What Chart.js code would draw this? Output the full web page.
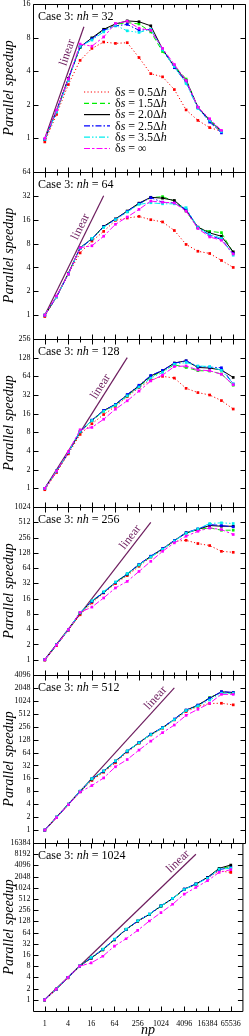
<!DOCTYPE html>
<html><head><meta charset="utf-8">
<script src="https://cdn.jsdelivr.net/npm/chart.js@4.4.1/dist/chart.umd.min.js"></script>
<style>
html,body{margin:0;padding:0;background:#fff;}
#wrap{position:relative;width:249px;height:1036px;overflow:hidden;background:#fff;}
#wrap canvas{position:absolute;left:0;}
</style></head><body><div id="wrap"></div>
<script>
// ---------- data ----------
const npValues = [1,2,4,8,16,32,64,128,256,512,1024,2048,4096,8192,16384,32768,65536];
const xTickLabels = [1,4,16,64,256,1024,4096,16384,65536];
const nhValues = [32,64,128,256,512,1024];
const yTopValues = [16,64,256,1024,4096,16384];
const linearEndNp = [10,32,128,512,2048,8192];
const seriesLabels = ['0.5\u0394','1.5\u0394','2.0\u0394','2.5\u0394','3.5\u0394','\u221e'];

// nh = 32
const nh32_ds05 = [0.93,1.64,3.04,5.0,6.4,7.3,7.1,7.2,5.3,3.8,3.56,2.74,1.8,1.45,1.25,1.16];
const nh32_ds15 = [0.98,1.75,3.4,6.5,7.9,9.4,10.5,10.9,10.6,9.0,6.0,4.5,3.4,1.9,1.45,1.15];
const nh32_ds20 = [0.98,1.78,3.45,6.6,7.95,9.5,10.6,11.3,11.1,10.2,6.3,4.4,3.3,1.9,1.45,1.15];
const nh32_ds25 = [0.98,1.75,3.4,6.6,7.8,9.3,10.2,10.5,9.3,9.5,6.3,4.3,3.2,1.9,1.4,1.12];
const nh32_ds35 = [0.98,1.72,3.3,6.7,7.6,9.0,10.3,9.2,8.9,9.5,6.2,4.4,3.1,1.85,1.45,1.15];
const nh32_dsInf = [1.0,1.8,3.4,7.0,6.7,8.1,10.7,11.2,9.7,9.3,6.4,4.6,3.3,1.9,1.5,1.18];
// nh = 64
const nh64_ds05 = [0.96,1.7,3.3,6.1,8.6,11.4,15.7,16.8,17.6,16.0,15.0,11.7,7.8,6.4,6.0,4.9,4.0];
const nh64_ds15 = [1,1.71,3.36,7.0,9.1,13.0,16.2,20.3,25.5,30.3,31.3,27.5,20.5,12.6,11.4,11.0,6.1];
const nh64_ds20 = [1,1.71,3.36,7.1,9.2,13.2,16.4,20.6,25.9,30.7,29.9,28.0,21.0,12.9,10.9,9.9,6.3];
const nh64_ds25 = [1,1.7,3.3,7.0,9.1,13.0,16.2,20.4,25.5,30.4,26.6,26.0,21.5,12.7,10.2,9.0,6.0];
const nh64_ds35 = [1,1.7,3.3,7.0,9.3,12.8,16.0,20.0,25.0,26.2,25.4,25.4,22.7,12.7,10.5,9.3,5.7];
const nh64_dsInf = [1,1.75,3.3,7.1,7.5,9.9,14.0,17.3,21.6,27.5,26.6,26.0,20.5,12.4,9.7,8.8,5.9];
// nh = 128
const nh128_ds05 = [0.95,1.8,3.6,7.4,11,15.5,21,30,42,56,64,60,41,35,32,26,19];
const nh128_ds15 = [1,1.9,3.8,8.1,12.3,17.5,22,31,44,63,77,98,89,79,78,70,46];
const nh128_ds20 = [1,1.9,3.8,8.2,12.5,18,22.6,32,45,65,79,105,114,89,87,81,61.5];
const nh128_ds25 = [1,1.9,3.8,8.2,12.6,18,22.6,32.5,46,66,80,104,114,92,90,88,48];
const nh128_ds35 = [1,1.9,3.8,8.3,12.4,17.5,22,31,43,60,74,100,107,94,92,80,48.5];
const nh128_dsInf = [1,1.9,3.9,8.8,9.6,13,18.9,25.8,37,54,67,92,94,81,79,69,47];
// nh = 256
const nh256_ds05 = [0.98,1.9,3.8,7.7,13.2,20.7,31.6,45.5,69.5,105,148,215,226,195,178,137,131];
const nh256_ds15 = [1,1.98,3.9,8.3,14,21,33,48,74,107,150,220,316,368,397,357,357];
const nh256_ds20 = [1,1.98,3.9,8.4,14.2,21.3,33.6,49,75,109,153,223,316,368,442,428,428];
const nh256_ds25 = [1,1.98,3.9,8.4,14.2,21.3,33.6,49,76,110,155,225,320,380,462,442,416];
const nh256_ds35 = [1,1.98,3.9,8.5,14.5,22,34,50,74,106,150,220,310,380,484,499,484];
const nh256_dsInf = [1,1.95,3.9,8.6,10.9,16.5,26,35,55,87,137,201,272,340,397,368,294];
// nh = 512
const nh512_ds05 = [0.98,1.95,3.9,7.8,14.3,22.3,37,65.6,105,164,235,368,576,760,890,900,826];
const nh512_ds15 = [1,2,4,8,15.4,23.3,40,68,108,168,240,378,615,800,1225,1600,1540];
const nh512_ds20 = [1,2,4,8,15.6,23.6,40.4,69,109,170,243,381,620,811,1180,1660,1600];
const nh512_ds25 = [1,2,4,8,15.6,23.6,40.4,69,110,172,245,385,625,815,1180,1680,1600];
const nh512_ds35 = [1,2,4,8.1,15.8,24,41,70,108,168,240,375,610,780,1070,1540,1540];
const nh512_dsInf = [1,1.95,3.9,7.7,10.9,16.4,29.8,44,73,118,186,280,470,650,900,1450,1450];
// nh = 1024
const nh1024_ds05 = [0.98,1.9,3.9,7.9,13,22,41,77,128,196,330,520,930,1280,1900,2900,2660];
const nh1024_ds15 = [1,1.94,4,8,13.2,22,41,77,130,197,330,520,930,1280,1950,3300,3850];
const nh1024_ds20 = [1,1.94,4,8,13.4,22.5,42,78,131,198,333,527,942,1290,1950,3420,4200];
const nh1024_ds25 = [1,1.94,4,8,13.4,22.5,42,78,131,200,335,530,950,1300,1900,3150,3600];
const nh1024_ds35 = [1,1.94,4,8,13.8,23,43,79,133,200,333,530,920,1280,1850,3270,3400];
const nh1024_dsInf = [1,1.94,4,8,9.8,14.8,27.7,43.7,73.5,131,220,370,690,1045,1585,2660,3140];

const panelSeries = [
  [nh32_ds05,nh32_ds15,nh32_ds20,nh32_ds25,nh32_ds35,nh32_dsInf],
  [nh64_ds05,nh64_ds15,nh64_ds20,nh64_ds25,nh64_ds35,nh64_dsInf],
  [nh128_ds05,nh128_ds15,nh128_ds20,nh128_ds25,nh128_ds35,nh128_dsInf],
  [nh256_ds05,nh256_ds15,nh256_ds20,nh256_ds25,nh256_ds35,nh256_dsInf],
  [nh512_ds05,nh512_ds15,nh512_ds20,nh512_ds25,nh512_ds35,nh512_dsInf],
  [nh1024_ds05,nh1024_ds15,nh1024_ds20,nh1024_ds25,nh1024_ds35,nh1024_dsInf]
];

// ---------- styles / layout ----------
const seriesColors = ['#ff0000','#00ee00','#000000','#0000ff','#00eeee','#ff00ff'];
const seriesDashes = [[1.2,2.2],[5,3],[],[6,2,1.5,2],[6,2,1.5,2,1.5,2],[6,2,2.5,2]];
const seriesOrder = [5,4,3,2,1,0];
const linearColor = '#6d1d5e';
const panelTops = [4,172,339,507,675,843];
const panelHeights = [168,167,168,168,168,168];
const linearLabelAt = [5.6,11.9,38,214,920,3800];
const FONT = '"Liberation Serif","Times New Roman",serif';
const PAD_T = 10, PAD_B = 10, XAXIS_H = 25;

Chart.defaults.font.family = FONT;
Chart.defaults.color = '#000';

function richText(ctx, parts, x, y, size){
  for (const [t, it] of parts){
    ctx.font = (it ? 'italic ' : '') + size + 'px ' + FONT;
    ctx.fillText(t, x, y);
    x += ctx.measureText(t).width;
  }
}

const decorPlugin = {
  id: 'decor',
  afterDatasetsDraw(chart){
    const o = chart.options.plugins.decor;
    const {ctx, chartArea:a, scales:{x, y}} = chart;
    ctx.save();
    ctx.strokeStyle = '#000'; ctx.lineWidth = 1; ctx.setLineDash([]);
    const L = a.left + 0.5, R = a.right + 0.5, T = a.top + 0.5, B = a.bottom + 0.5;
    ctx.beginPath(); ctx.rect(L, T, R - L, B - T); ctx.stroke();
    ctx.beginPath();
    npValues.forEach((v, i) => {
      const px = Math.round(x.getPixelForValue(v)) + 0.5;
      const len = i % 2 === 0 ? 5 : 3;
      ctx.moveTo(px, B); ctx.lineTo(px, B - len);
      ctx.moveTo(px, T); ctx.lineTo(px, T + len);
    });
    o.yTicks.forEach(v => {
      const py = Math.round(y.getPixelForValue(v)) + 0.5;
      ctx.moveTo(L, py); ctx.lineTo(L + 5, py);
      ctx.moveTo(R, py); ctx.lineTo(R - 5, py);
    });
    ctx.stroke();

    // panel title
    ctx.fillStyle = '#000'; ctx.textBaseline = 'alphabetic'; ctx.textAlign = 'left';
    richText(ctx, [['Case 3: ', false], ['nh', true], [' = ' + o.nh, false]], 38, a.top + 15.5, 12);

    // x-axis title (bottom panel only)
    if (o.xTitle){
      ctx.font = 'italic 14px ' + FONT; ctx.textAlign = 'center'; ctx.textBaseline = 'alphabetic';
      ctx.fillText('np', 148, a.bottom + 22.5);
      ctx.textAlign = 'left';
    }

    // linear label
    const x1 = x.getPixelForValue(1), y1 = y.getPixelForValue(1);
    const x2 = x.getPixelForValue(o.linEnd), y2 = y.getPixelForValue(o.linEnd);
    const ang = Math.atan2(y2 - y1, x2 - x1);
    const lx = x.getPixelForValue(o.linLabel) + Math.sin(ang) * 7;
    const ly = y.getPixelForValue(o.linLabel) - Math.cos(ang) * 7;
    ctx.save();
    ctx.translate(lx, ly); ctx.rotate(ang);
    ctx.font = '12px ' + FONT; ctx.fillStyle = linearColor;
    ctx.textAlign = 'center'; ctx.textBaseline = 'middle';
    ctx.fillText('linear', 0, 0);
    ctx.restore();

    // legend (first panel only)
    if (o.legend){
      const top = o.canvasTop;
      for (let i = 0; i < 6; i++){
        const yy = 92 + i * 11.3 - top;
        ctx.strokeStyle = seriesColors[i]; ctx.lineWidth = 1.2;
        ctx.setLineDash(seriesDashes[i]);
        ctx.beginPath(); ctx.moveTo(84, yy); ctx.lineTo(110, yy); ctx.stroke();
        ctx.setLineDash([]);
        ctx.fillStyle = '#000'; ctx.textBaseline = 'middle';
        const lab = seriesLabels[i];
        const parts = [['\u03b4', false], ['s', true], [' = ' + lab, false]];
        if (lab !== '\u221e') parts.push(['h', true]);
        richText(ctx, parts, 115, yy + 0.5, 12);
      }
    }
    ctx.restore();
  }
};

const wrap = document.getElementById('wrap');
nhValues.forEach((nh, p) => {
  const last = p === nhValues.length - 1;
  const padB = last ? 0 : PAD_B;
  const H = PAD_T + panelHeights[p] + (last ? XAXIS_H : PAD_B);
  const canvasTop = panelTops[p] - PAD_T;
  const c = document.createElement('canvas');
  c.width = 249; c.height = H;
  c.style.top = canvasTop + 'px'; c.style.width = '249px'; c.style.height = H + 'px';
  wrap.appendChild(c);

  const yTicks = [];
  for (let v = 1; v <= yTopValues[p]; v *= 2) yTicks.push(v);

  const datasets = panelSeries[p].map((vals, s) => ({
    data: vals.map((v, i) => ({x: npValues[i], y: v})),
    borderColor: seriesColors[s], backgroundColor: seriesColors[s],
    borderWidth: 1, borderDash: seriesDashes[s], order: seriesOrder[s],
    pointStyle: 'rect', pointRadius: 1.9, pointBorderWidth: 0,
    pointBackgroundColor: seriesColors[s], tension: 0, fill: false
  }));
  datasets.push({
    data: [{x: 1, y: 1}, {x: linearEndNp[p], y: linearEndNp[p]}],
    borderColor: linearColor, borderWidth: 1.2, pointRadius: 0, order: 10, fill: false
  });

  new Chart(c, {
    type: 'line',
    data: {datasets},
    options: {
      responsive: false, animation: false, devicePixelRatio: 1,
      layout: {padding: {top: PAD_T, bottom: padB, left: 0, right: 1}},
      plugins: {
        legend: {display: false}, tooltip: {enabled: false},
        decor: {yTicks, nh, linEnd: linearEndNp[p], linLabel: linearLabelAt[p], legend: p === 0, xTitle: last, canvasTop}
      },
      scales: {
        x: {
          type: 'logarithmic', min: 0.5, max: 131072, display: last,
          grid: {display: false, drawTicks: false}, border: {display: false},
          afterBuildTicks: s => { s.ticks = xTickLabels.map(v => ({value: v})); },
          afterFit: s => { s.height = last ? XAXIS_H : 0; },
          ticks: {font: {size: 8, family: FONT}, padding: 8, maxRotation: 0, autoSkip: false, callback: v => String(v)},
          title: {display: false}
        },
        y: {
          type: 'logarithmic', min: 0.5, max: yTopValues[p],
          grid: {display: false, drawTicks: false}, border: {display: false},
          afterBuildTicks: s => { s.ticks = yTicks.map(v => ({value: v})); },
          afterFit: s => { s.width = 33; },
          ticks: {font: {size: 8, family: FONT}, padding: 2.5, autoSkip: false, callback: v => String(v)},
          title: {display: true, text: 'Parallel speedup', font: {size: 14, style: 'italic', family: FONT}, padding: {top: 1, bottom: 0}}
        }
      }
    },
    plugins: [decorPlugin]
  });
});
</script>
</body></html>
